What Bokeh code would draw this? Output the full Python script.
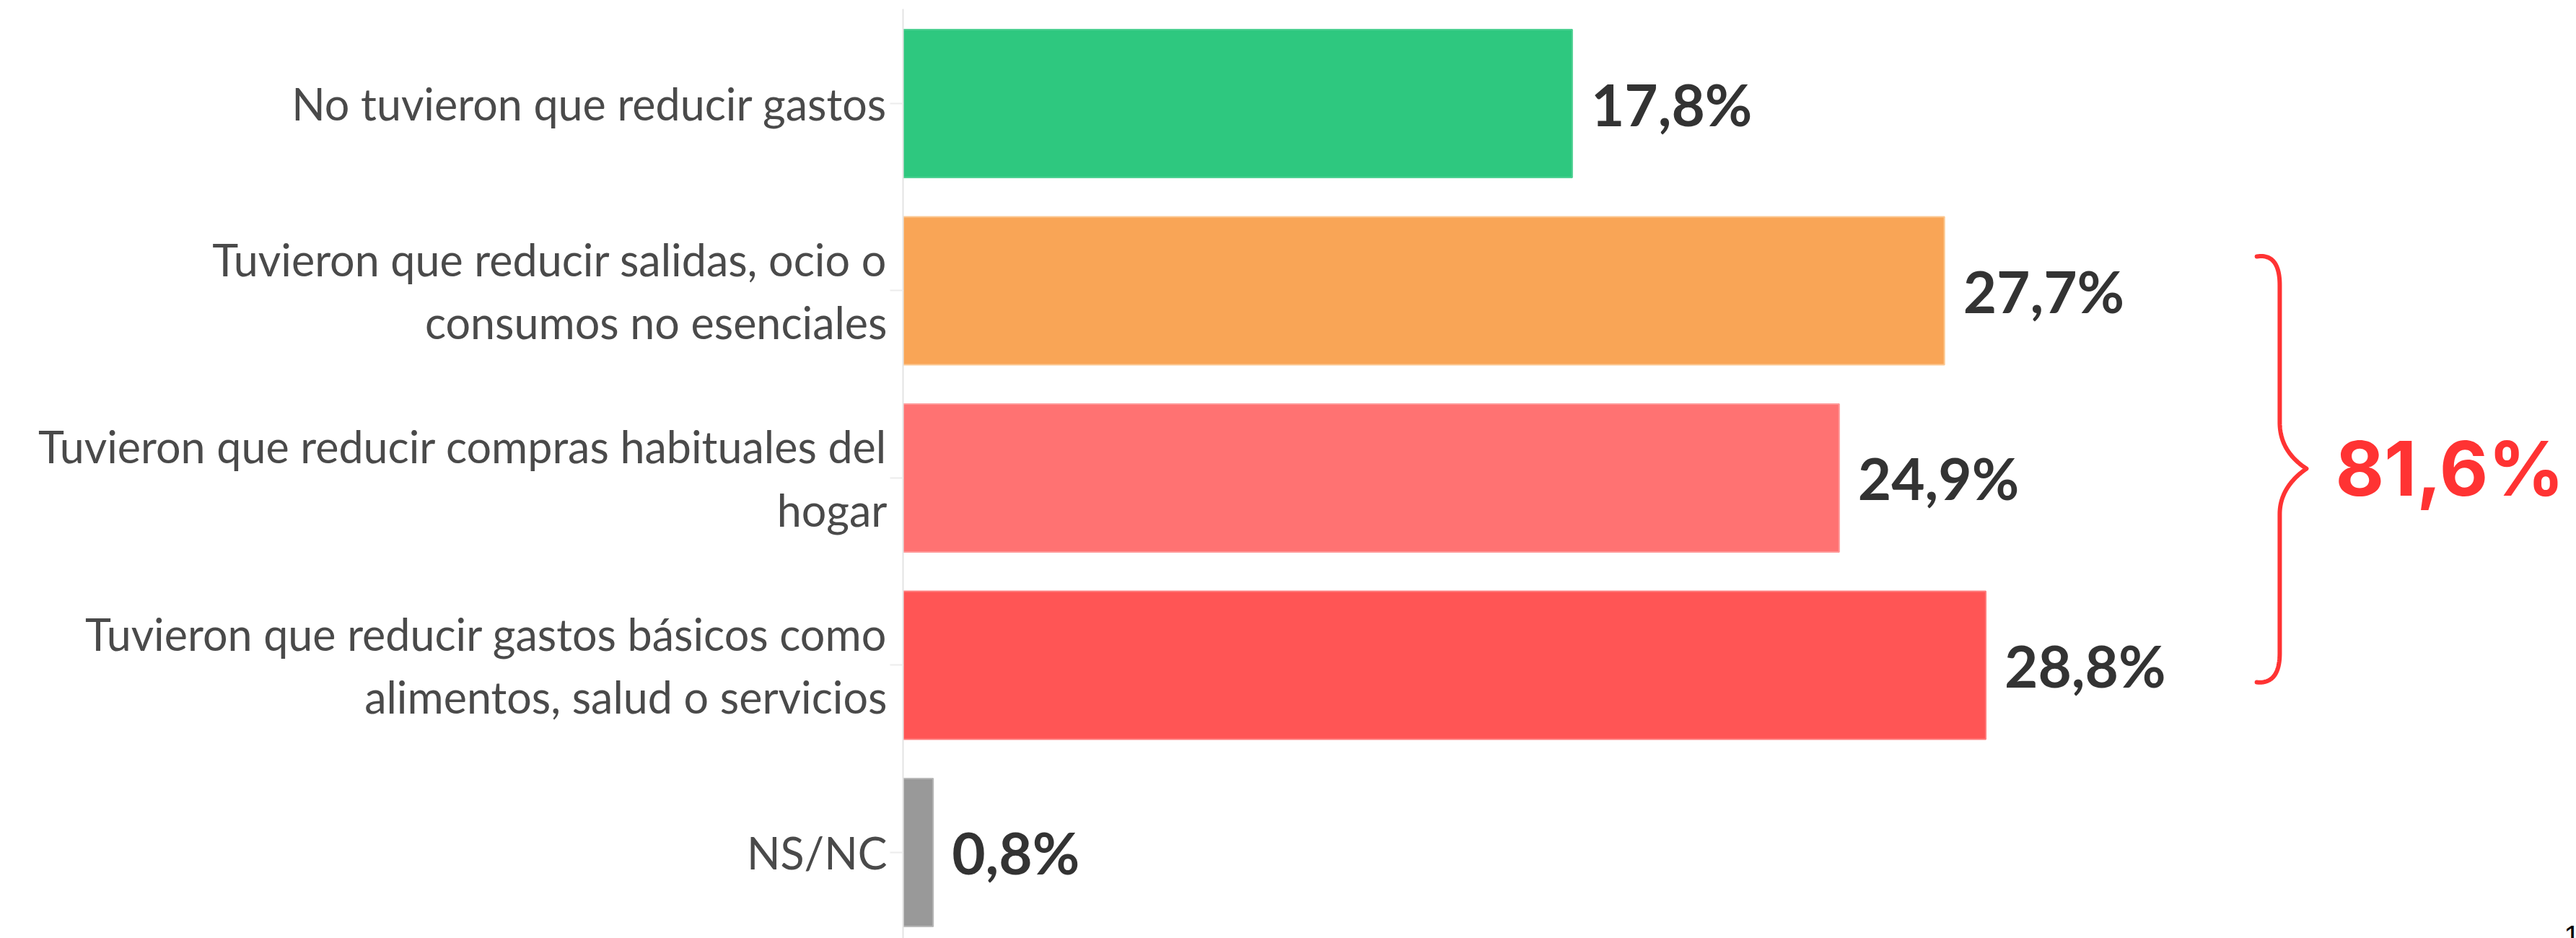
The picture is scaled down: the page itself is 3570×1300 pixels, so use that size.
import numpy as np
from bokeh.plotting import figure
from bokeh.models import Range1d, FixedTicker, Label
from bokeh.embed import file_html
from bokeh.resources import INLINE
from bokeh.core.properties import value

# ---------------- data ----------------
categorias = [
    "No tuvieron que reducir gastos",
    "Tuvieron que reducir salidas, ocio o\nconsumos no esenciales",
    "Tuvieron que reducir compras habituales del\nhogar",
    "Tuvieron que reducir gastos básicos como\nalimentos, salud o servicios",
    "NS/NC",
]
porcentajes = [17.8, 27.7, 24.9, 28.8, 0.8]
colores = ["#2ec87f", "#f9a556", "#ff7272", "#ff5555", "#999999"]
bordes = ["#4fd193", "#fbc891", "#ff9898", "#ff7d7d", "#b8b8b8"]
total_reduccion = 81.6

# ---------------- layout ----------------
W, H = 3570, 1300
posiciones = list(range(len(categorias)))
etiquetas = [f"{v:.1f}".replace(".", ",") + "%" for v in porcentajes]
etiqueta_total = f"{total_reduccion:.1f}".replace(".", ",") + "%"

p = figure(
    width=W, height=H,
    x_range=Range1d(0, 44.51),
    y_range=Range1d(4.459, -0.505),
    output_backend="svg", toolbar_location=None,
    min_border_left=1251, min_border_right=0,
    min_border_top=12, min_border_bottom=0,
)
p.outline_line_color = None
p.xgrid.visible = False
p.ygrid.visible = False
p.xaxis.visible = False

ya = p.yaxis[0]
ya.ticker = FixedTicker(ticks=posiciones)
ya.major_label_overrides = {i: c for i, c in zip(posiciones, categorias)}
ya.axis_line_color = "#e3e3e3"
ya.axis_line_width = 2
ya.major_tick_line_color = "#ececec"
ya.major_tick_line_width = 2
ya.major_tick_out = 18
ya.major_tick_in = 0
ya.minor_tick_line_color = None
ya.major_label_standoff = 4
ya.major_label_text_font = "Lato"
ya.major_label_text_font_size = "61px"
ya.major_label_text_color = "#4a4a4a"

p.hbar(y=posiciones, left=0, right=porcentajes, height=0.79,
       fill_color=colores, line_color=bordes, line_width=2)

p.text(x=porcentajes, y=posiciones, text=etiquetas, x_offset=26,
       text_baseline="middle", text_align="left",
       text_font=value("Lato"), text_font_style="bold",
       text_font_size="80px", text_color="#333333")

# ---------------- brace for the three "reduce" categories ----------------
def qbez(p0, p1, p2, n=30):
    t = np.linspace(0, 1, n)[:, None]
    a, b, c = np.array(p0), np.array(p1), np.array(p2)
    return (1 - t) ** 2 * a + 2 * (1 - t) * t * b + t ** 2 * c

xt, xl, xp = 36.01, 36.62, 37.33   # tail, vertical line, tip
pts = np.vstack([
    qbez((xt, 0.817), (xl, 0.798), (xl, 0.971)),
    qbez((xl, 1.703), (xl, 1.857), (xp, 1.950)),
    qbez((xp, 1.950), (xl, 2.050), (xl, 2.193)),
    qbez((xl, 2.936), (xl, 3.102), (xt, 3.091)),
])
p.line(pts[:, 0], pts[:, 1], line_color="#ff3333", line_width=6,
       line_cap="round", line_join="round")

p.add_layout(Label(x=38.1, y=1.95, text=etiqueta_total,
                   text_baseline="middle", text_align="left",
                   text_font="Inter", text_font_style="bold",
                   text_font_size="104px", text_color="#ff3333"))

p.add_layout(Label(x=44.18, y=4.393, text="1", text_baseline="top",
                   text_align="left", text_font="Liberation Sans",
                   text_font_size="40px", text_color="#000000"))

open("out.html", "w").write(file_html(p, INLINE))
